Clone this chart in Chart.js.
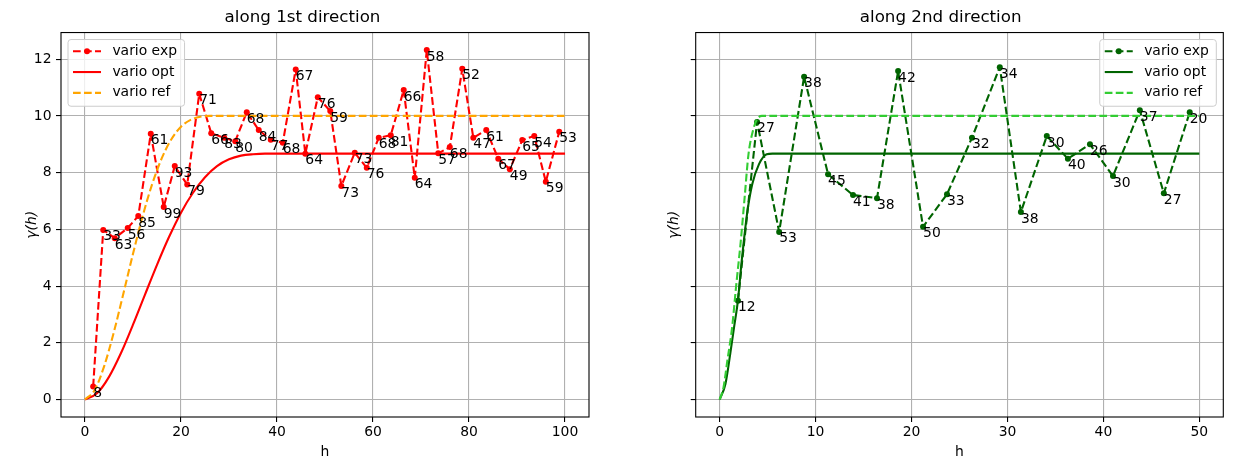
<!DOCTYPE html>
<html>
<head>
<meta charset="utf-8">
<script src="https://cdn.jsdelivr.net/npm/chart.js@4/dist/chart.umd.min.js"></script>
<style>
  body { margin: 0; background: #fff; width: 1233px; height: 470px; overflow: hidden; position: relative; }
  canvas { position: absolute; top: 0; }
  #chart1 { left: 0; }
  #chart2 { left: 615px; }
</style>
</head>
<body>
<canvas id="chart1" width="600" height="470"></canvas>
<canvas id="chart2" width="618" height="470"></canvas>
<script>
var FONT = 'DejaVu Sans';

// along 1st direction
var lags1 = [1.7, 3.8, 6.2, 8.9, 11.1, 13.7, 16.4, 18.7, 21.3, 23.8, 26.3, 29.0, 31.3, 33.7, 36.2, 38.7, 41.2, 43.9, 45.9, 48.5,
  51.1, 53.4, 56.2, 58.7, 61.2, 63.7, 66.4, 68.7, 71.2, 73.6, 76.0, 78.6, 80.9, 83.6, 86.1, 88.5, 91.1, 93.6, 96.0, 98.8];
var gamma1 = [0.46, 5.98, 5.69, 6.05, 6.47, 9.37, 6.79, 8.23, 7.58, 10.78, 9.39, 9.23, 9.11, 10.13, 9.50, 9.16, 9.05, 11.64, 8.67, 10.66,
  10.17, 7.53, 8.70, 8.17, 9.23, 9.32, 10.91, 7.82, 12.32, 8.68, 8.90, 11.66, 9.23, 9.50, 8.49, 8.12, 9.15, 9.29, 7.68, 9.44];
var counts1 = [8, 33, 63, 56, 85, 61, 99, 93, 79, 71, 66, 83, 80, 68, 84, 77, 68, 67, 64, 76,
  59, 73, 73, 76, 68, 81, 66, 64, 58, 57, 68, 52, 47, 61, 67, 49, 65, 54, 59, 53];
var optH1 = [0, 2.5, 5, 7.5, 10, 12.5, 15, 17.5, 20, 22.5, 25, 27.5, 30, 32.5, 35, 37.5, 40, 100];
var optG1 = [0, 0.22, 0.80, 1.64, 2.64, 3.70, 4.75, 5.73, 6.59, 7.29, 7.84, 8.23, 8.47, 8.60, 8.65, 8.67, 8.67, 8.67];
var refH1 = [0, 2, 4, 6, 8, 10, 12, 14, 16, 18, 20, 22, 24, 26, 28, 100];
var refG1 = [0, 0.33, 1.18, 2.37, 3.74, 5.14, 6.46, 7.60, 8.51, 9.18, 9.62, 9.86, 9.97, 10.0, 10.0, 10.0];

// along 2nd direction
var lags2 = [1.9, 3.9, 6.2, 8.8, 11.3, 13.9, 16.4, 18.6, 21.2, 23.7, 26.3, 29.2, 31.4, 34.1, 36.3, 38.6, 41.0, 43.8, 46.3, 49.0];
var gamma2 = [3.48, 9.79, 5.91, 11.38, 7.94, 7.21, 7.10, 11.58, 6.09, 7.24, 9.23, 11.72, 6.61, 9.29, 8.49, 9.00, 7.88, 10.20, 7.27, 10.13];
var counts2 = [12, 27, 53, 38, 45, 41, 38, 42, 50, 33, 32, 34, 38, 30, 40, 26, 30, 37, 27, 20];
var optH2 = [0, 0.6, 1.1, 1.5, 1.9, 2.3, 2.9, 3.4, 4.1, 4.9, 5.5, 50];
var optG2 = [0, 0.55, 1.61, 2.55, 3.49, 4.90, 6.66, 7.60, 8.30, 8.65, 8.67, 8.67];
var refH2 = [0, 0.4, 0.8, 1.3, 1.7, 2.2, 2.6, 3.0, 3.5, 3.9, 4.4, 50];
var refG2 = [0, 0.43, 1.37, 2.55, 3.95, 5.59, 7.12, 8.64, 9.52, 9.88, 10.0, 10.0];

var xTicks1 = [0, 20, 40, 60, 80, 100];
var xTicks2 = [0, 10, 20, 30, 40, 50];
var yTicks = [0, 2, 4, 6, 8, 10, 12];
var legendLabels = ['vario exp', 'vario opt', 'vario ref'];

function toPoints(xs, ys) {
  return xs.map(function (x, i) { return {x: x, y: ys[i]}; });
}

function drawLegend(chart, corner) {
  var ctx = chart.ctx;
  var area = chart.chartArea;
  var items = chart.data.datasets;
  ctx.save();
  ctx.font = '13.9px ' + FONT;
  var tw = 0;
  items.forEach(function (d) { tw = Math.max(tw, ctx.measureText(d.label).width); });
  var w = 44.4 + tw + 7.6;
  var h = 66.7;
  var left = corner === 'right' ? area.right - 7 - w : area.left + 7;
  var top = area.top + 7;
  ctx.beginPath();
  ctx.roundRect(left, top, w, h, 3);
  ctx.fillStyle = 'rgba(255,255,255,0.8)';
  ctx.fill();
  ctx.strokeStyle = '#cccccc';
  ctx.lineWidth = 1;
  ctx.stroke();
  items.forEach(function (d, i) {
    var y = top + 11.7 + i * 20.8;
    var x0 = left + 5;
    ctx.beginPath();
    ctx.setLineDash(d.borderDash || []);
    ctx.strokeStyle = d.borderColor;
    ctx.lineWidth = d.borderWidth;
    ctx.moveTo(x0, y);
    ctx.lineTo(x0 + 28, y);
    ctx.stroke();
    ctx.setLineDash([]);
    if (d.pointRadius) {
      ctx.beginPath();
      ctx.arc(x0 + 14, y, d.pointRadius, 0, 2 * Math.PI);
      ctx.fillStyle = d.borderColor;
      ctx.fill();
    }
    ctx.fillStyle = '#000';
    ctx.textAlign = 'left';
    ctx.textBaseline = 'middle';
    ctx.fillText(d.label, x0 + 39.4, y);
  });
  ctx.restore();
}

var variogramPlugin = {
  id: 'variogram',
  afterDatasetsDraw: function (chart, args, opts) {
    var ctx = chart.ctx;
    var area = chart.chartArea;
    ctx.save();
    // axes frame
    ctx.strokeStyle = '#000';
    ctx.lineWidth = 1.1;
    ctx.strokeRect(area.left, area.top, area.right - area.left, area.bottom - area.top);
    // number of pairs next to each experimental point
    ctx.font = '13.9px ' + FONT;
    ctx.fillStyle = '#000';
    ctx.textAlign = 'left';
    ctx.textBaseline = 'top';
    chart.getDatasetMeta(0).data.forEach(function (pt, i) {
      ctx.fillText(String(opts.counts[i]), pt.x, pt.y);
    });
    ctx.restore();
    drawLegend(chart, opts.legend);
  }
};

function makeChart(id, s) {
  var dash = [7.7, 3.3];
  return new Chart(document.getElementById(id), {
    type: 'line',
    data: {
      datasets: [{
        label: legendLabels[0],
        data: toPoints(s.lags, s.gamma),
        borderColor: s.color,
        backgroundColor: s.color,
        borderWidth: 2.1,
        borderDash: dash,
        borderJoinStyle: 'round',
        pointRadius: 3,
        pointBorderWidth: 0,
        pointBackgroundColor: s.color,
        tension: 0,
        order: 2
      }, {
        label: legendLabels[1],
        data: toPoints(s.optH, s.optG),
        borderColor: s.color,
        borderWidth: 2.1,
        borderJoinStyle: 'round',
        pointRadius: 0,
        cubicInterpolationMode: 'monotone',
        order: 1
      }, {
        label: legendLabels[2],
        data: toPoints(s.refH, s.refG),
        borderColor: s.refColor,
        borderWidth: 2.1,
        borderDash: dash,
        borderJoinStyle: 'round',
        pointRadius: 0,
        cubicInterpolationMode: 'monotone',
        order: 0
      }]
    },
    options: {
      responsive: false,
      animation: false,
      events: [],
      layout: {
        padding: {left: s.padLeft, right: s.padRight, top: 0, bottom: 0}
      },
      plugins: {
        legend: {display: false},
        tooltip: {enabled: false},
        title: {
          display: true,
          text: s.title,
          color: '#000',
          font: {family: FONT, size: 16.7, weight: 'normal'},
          padding: {top: 8, bottom: 4.5}
        },
        variogram: {counts: s.counts, legend: s.legend}
      },
      scales: {
        x: {
          type: 'linear',
          min: s.xMin,
          max: s.xMax,
          afterBuildTicks: function (scale) {
            scale.ticks = s.xTicks.map(function (v) { return {value: v}; });
          },
          afterFit: function (scale) { scale.height = 53; },
          grid: {color: '#b0b0b0', lineWidth: 1.1, tickColor: '#000', tickLength: 5},
          border: {display: false},
          ticks: {color: '#000', font: {family: FONT, size: 13.9}, padding: 2, autoSkip: false, maxRotation: 0},
          title: {display: true, text: 'h', color: '#000', font: {family: FONT, size: 13.9}, padding: {top: 0, bottom: 9}}
        },
        y: {
          type: 'linear',
          min: -0.616,
          max: 12.94,
          afterBuildTicks: function (scale) {
            scale.ticks = yTicks.map(function (v) { return {value: v}; });
          },
          afterFit: function (scale) { scale.width = s.yWidth; },
          grid: {color: '#b0b0b0', lineWidth: 1.1, tickColor: '#000', tickLength: 5},
          border: {display: false},
          ticks: {
            color: '#000',
            font: {family: FONT, size: 13.9},
            padding: 4.5,
            autoSkip: false,
            callback: function (v) { return s.yLabels ? String(v) : ''; }
          },
          title: {display: true, text: 'γ(h)', color: '#000', font: {family: FONT, size: 13.9, style: 'italic'}, padding: {top: 8, bottom: 0}}
        }
      }
    },
    plugins: [variogramPlugin]
  });
}

var chart1 = makeChart('chart1', {
  title: 'along 1st direction',
  lags: lags1, gamma: gamma1, counts: counts1,
  optH: optH1, optG: optG1, refH: refH1, refG: refG1,
  color: '#ff0000', refColor: '#ffa500',
  xMin: -5, xMax: 105, xTicks: xTicks1,
  yLabels: true, yWidth: 45, padLeft: 16, padRight: 11,
  legend: 'left'
});

var chart2 = makeChart('chart2', {
  title: 'along 2nd direction',
  lags: lags2, gamma: gamma2, counts: counts2,
  optH: optH2, optG: optG2, refH: refH2, refG: refG2,
  color: '#006400', refColor: '#32cd32',
  xMin: -2.5, xMax: 52.5, xTicks: xTicks2,
  yLabels: false, yWidth: 37.7, padLeft: 43, padRight: 9.7,
  legend: 'right'
});
</script>
</body>
</html>
